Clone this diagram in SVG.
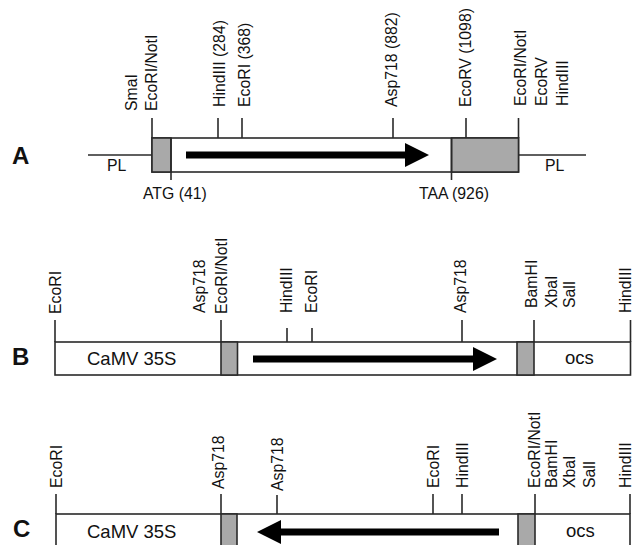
<svg xmlns="http://www.w3.org/2000/svg" width="633" height="545" viewBox="0 0 633 545">
<style>
text{font-family:"Liberation Sans",Arial,sans-serif;fill:#111}
.l{font-size:15.8px}
.big{font-size:18.5px}
.p{font-size:24px;font-weight:bold}
.s{stroke:#2a2a2a;stroke-width:1.6;fill:none}
.box{stroke:#2a2a2a;stroke-width:1.6;fill:#fff}
.g{fill:#a9a9a9;stroke:#2a2a2a;stroke-width:1.6}
.ar{fill:#000}
</style>
<rect width="633" height="545" fill="#fff"/>
<g id="panelA">
<text class="p" x="12" y="164">A</text>
<line class="s" x1="88" y1="155" x2="152" y2="155"/>
<line class="s" x1="518.5" y1="155" x2="586" y2="155"/>
<rect class="box" x="152" y="138" width="366.5" height="34"/>
<rect class="g" x="152" y="138" width="19" height="34"/>
<rect class="g" x="451.5" y="138" width="67" height="34"/>
<line class="s" x1="171" y1="138" x2="171" y2="180"/>
<line class="s" x1="451.5" y1="138" x2="451.5" y2="180"/>
<g class="s">
<line x1="152" y1="118" x2="152" y2="138"/>
<line x1="218" y1="118" x2="218" y2="138"/>
<line x1="242" y1="118" x2="242" y2="138"/>
<line x1="393" y1="118" x2="393" y2="138"/>
<line x1="466" y1="118" x2="466" y2="138"/>
<line x1="518.5" y1="118" x2="518.5" y2="138"/>
</g>
<polygon class="ar" points="186,151.5 405,151.5 405,143 429,155 405,167 405,158.5 186,158.5"/>
<text class="l" x="107" y="171">PL</text>
<text class="l" x="545" y="171">PL</text>
<text class="l" x="143" y="199">ATG (41)</text>
<text class="l" x="419" y="199">TAA (926)</text>
<text class="l" transform="translate(137,111) rotate(-90)">SmaI</text>
<text class="l" transform="translate(157,111) rotate(-90)">EcoRI/NotI</text>
<text class="l" transform="translate(225,107) rotate(-90)">HindIII (284)</text>
<text class="l" transform="translate(250,107) rotate(-90)">EcoRI (368)</text>
<text class="l" transform="translate(397,107) rotate(-90)">Asp718 (882)</text>
<text class="l" transform="translate(471,107) rotate(-90)">EcoRV (1098)</text>
<text class="l" transform="translate(526,106) rotate(-90)">EcoRI/NotI</text>
<text class="l" transform="translate(547,106) rotate(-90)">EcoRV</text>
<text class="l" transform="translate(568,106) rotate(-90)">HindIII</text>
</g>
<g id="panelB">
<text class="p" x="12" y="365">B</text>
<rect class="box" x="55" y="342" width="575.5" height="33"/>
<rect class="g" x="221" y="342" width="16.5" height="33"/>
<rect class="g" x="517" y="342" width="17" height="33"/>
<g class="s">
<line x1="55" y1="320" x2="55" y2="342"/>
<line x1="221" y1="320" x2="221" y2="342"/>
<line x1="287" y1="328" x2="287" y2="342"/>
<line x1="312" y1="328" x2="312" y2="342"/>
<line x1="462" y1="320" x2="462" y2="342"/>
<line x1="534" y1="320" x2="534" y2="342"/>
<line x1="630.5" y1="320" x2="630.5" y2="342"/>
</g>
<polygon class="ar" points="253,355.5 473,355.5 473,347 497,359 473,371 473,362.5 253,362.5"/>
<text class="big" x="87" y="365">CaMV 35S</text>
<text class="big" x="565" y="364">ocs</text>
<text class="l" transform="translate(61,314) rotate(-90)">EcoRI</text>
<text class="l" transform="translate(205,313) rotate(-90)">Asp718</text>
<text class="l" transform="translate(227,314) rotate(-90)">EcoRI/NotI</text>
<text class="l" transform="translate(292,313) rotate(-90)">HindIII</text>
<text class="l" transform="translate(317,313) rotate(-90)">EcoRI</text>
<text class="l" transform="translate(466,313) rotate(-90)">Asp718</text>
<text class="l" transform="translate(537,308) rotate(-90)">BamHI</text>
<text class="l" transform="translate(557,308) rotate(-90)">XbaI</text>
<text class="l" transform="translate(575,308) rotate(-90)">SalI</text>
<text class="l" transform="translate(631,313) rotate(-90)">HindIII</text>
</g>
<g id="panelC">
<text class="p" x="13" y="537">C</text>
<rect class="box" x="56" y="514" width="574" height="40"/>
<rect class="g" x="221" y="514" width="16" height="40"/>
<rect class="g" x="518" y="514" width="17" height="40"/>
<g class="s">
<line x1="56" y1="494" x2="56" y2="514"/>
<line x1="221" y1="494" x2="221" y2="514"/>
<line x1="277" y1="495" x2="277" y2="514"/>
<line x1="433" y1="494" x2="433" y2="514"/>
<line x1="462" y1="494" x2="462" y2="514"/>
<line x1="535" y1="494" x2="535" y2="514"/>
<line x1="630" y1="494" x2="630" y2="514"/>
</g>
<polygon class="ar" points="499,528.5 281,528.5 281,520 257,532 281,544 281,535.5 499,535.5"/>
<text class="big" x="87" y="537.5">CaMV 35S</text>
<text class="big" x="566" y="537">ocs</text>
<text class="l" transform="translate(62,488) rotate(-90)">EcoRI</text>
<text class="l" transform="translate(224,489) rotate(-90)">Asp718</text>
<text class="l" transform="translate(283,491) rotate(-90)">Asp718</text>
<text class="l" transform="translate(439,488) rotate(-90)">EcoRI</text>
<text class="l" transform="translate(468,488) rotate(-90)">HindIII</text>
<text class="l" transform="translate(540,488) rotate(-90)">EcoRI/NotI</text>
<text class="l" transform="translate(557,488) rotate(-90)">BamHI</text>
<text class="l" transform="translate(575,488) rotate(-90)">XbaI</text>
<text class="l" transform="translate(595,488) rotate(-90)">SalI</text>
<text class="l" transform="translate(631,488) rotate(-90)">HindIII</text>
</g>
</svg>
